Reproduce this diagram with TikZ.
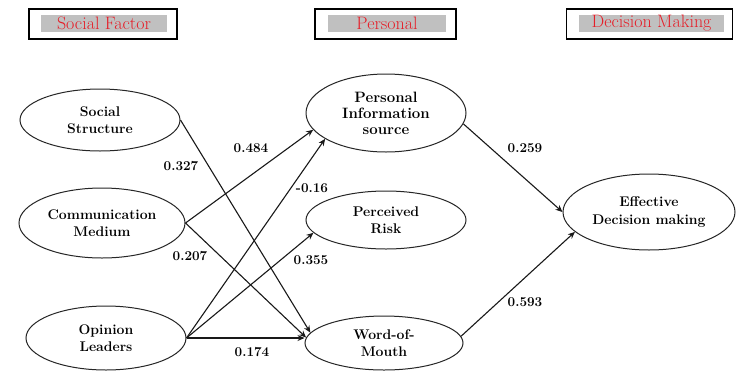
\documentclass[tikz,border=0pt]{standalone}
\usepackage{fontspec}
\setmainfont{Latin Modern Roman}
\usetikzlibrary{shapes.geometric,arrows.meta}
\definecolor{hdrgray}{RGB}{192,192,192}
\definecolor{hdrred}{RGB}{230,30,40}
\tikzset{
  construct/.style={draw=black!85, line width=1pt, ellipse, inner sep=0pt,
    align=center, font=\bfseries\fontsize{14}{17.5}\selectfont},
  causal/.style={draw=black!90, line width=1.1pt, -{Stealth[length=7pt,width=6pt]}},
  coef/.style={font=\bfseries\fontsize{13.5}{16}\selectfont, inner sep=0pt},
  hdrframe/.style={draw=black, line width=1.5pt, minimum height=30pt, inner sep=0pt},
  hdrlabel/.style={fill=hdrgray, text=hdrred, minimum height=17pt, inner sep=0pt,
    font=\fontsize{18}{18}\selectfont},
}
\begin{document}
\begin{tikzpicture}[x=1pt,y=-1pt]
\useasboundingbox (0,0) rectangle (736,370);
\fill[white] (0,0) rectangle (736,370);

% Column headings
\node[hdrframe, minimum width=148pt] (hsf) at (103,24) {};
\node[hdrlabel, minimum width=126pt] (hsft) at (104,23.5) {Social Factor};
\node[hdrframe, minimum width=141pt] (hp) at (385.5,24) {};
\node[hdrlabel, minimum width=118pt] (hpt) at (387,23.5) {Personal};
\node[hdrframe, minimum width=166pt] (hd) at (649.5,24) {};
\node[hdrlabel, minimum width=145pt] (hdt) at (651.5,23.5) {Decision Making};

% Social factors
\node[construct, minimum width=160pt, minimum height=62pt] (ss) at (100,120) {Social\\Structure};
\node[construct, minimum width=166pt, minimum height=70pt] (cm) at (102,223) {Communication\\Medium};
\node[construct, minimum width=160pt, minimum height=64pt] (ol) at (106,338) {Opinion\\Leaders};

% Personal factors
\node[construct, minimum width=160pt, minimum height=78pt,
      font=\bfseries\fontsize{15}{16}\selectfont] (pi) at (386,113) {Personal\\Information\\source};
\node[construct, minimum width=160pt, minimum height=58pt] (pr) at (386,220) {Perceived\\Risk};
\node[construct, minimum width=158pt, minimum height=54pt] (wom) at (384,343) {Word-of-\\Mouth};

% Outcome
\node[construct, minimum width=172pt, minimum height=76pt] (edm) at (649,212) {Effective\\Decision making};

% Paths
\draw[causal] (ss.east) -- (wom.172);
\draw[causal] (cm.east) -- (pi.193);
\draw[causal] (cm.east) -- (wom.176);
\draw[causal] (ol.east) -- (pi.203);
\draw[causal] (ol.east) -- (pr.190);
\draw[causal] (ol.east) -- (ol.east -| wom.west);
\draw[causal] (pi.352) -- (edm.west);
\draw[causal] (wom.5) -- (edm.195);

% Path coefficients
\node[coef] (c1) at (181,166) {0.327};
\node[coef] (c2) at (251,148) {0.484};
\node[coef] (c3) at (312,188) {-0.16};
\node[coef] (c4) at (190,256) {0.207};
\node[coef] (c5) at (311,260) {0.355};
\node[coef] (c6) at (252,352) {0.174};
\node[coef] (c7) at (525,148) {0.259};
\node[coef] (c8) at (525,302) {0.593};
\end{tikzpicture}
\end{document}
